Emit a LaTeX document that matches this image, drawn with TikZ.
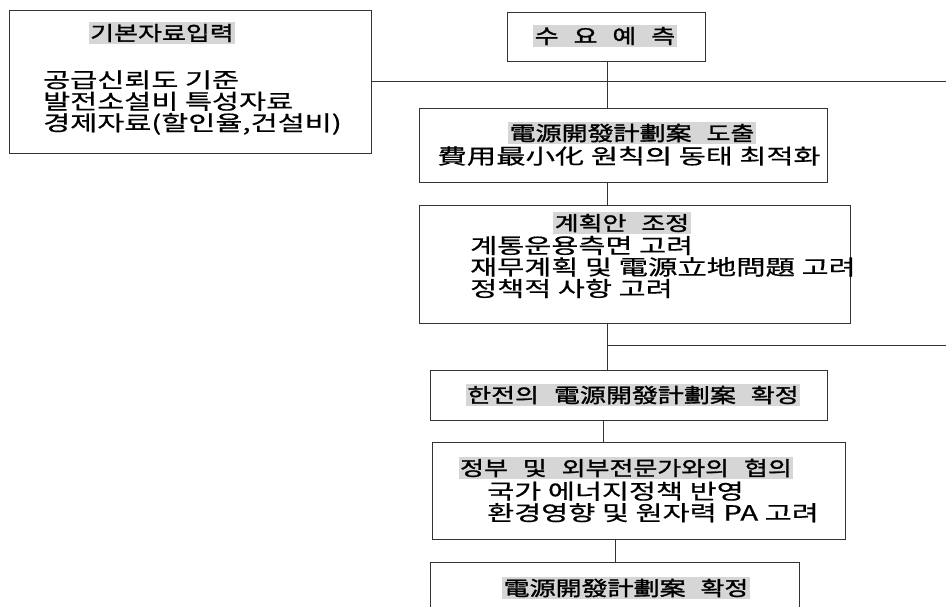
\documentclass[tikz,border=0pt]{standalone}
\usepackage{fontspec}
\newfontfamily\kr[FakeStretch=1.4,FakeBold=0.6]{Noto Sans CJK KR}
\newfontfamily\krh[FakeStretch=1.3,FakeBold=1.4,WordSpace=0.8]{Noto Sans CJK KR}
\newfontfamily\krs[FakeStretch=1.3,FakeBold=1.4,WordSpace=1.6]{Noto Sans CJK KR}
\tikzset{
  box/.style={draw=black!80, line width=0.7pt, rectangle, inner sep=0pt},
  head/.style={fill=black!16, inner sep=1.5pt, font=\krh\fontsize{20}{21}\selectfont},
  heads/.style={fill=black!16, inner sep=1.5pt, font=\krs\fontsize{20}{21}\selectfont},
  body/.style={inner sep=0pt, align=left, font=\kr\fontsize{21}{21.5}\selectfont},
  link/.style={draw=black!80, line width=0.7pt}
}
\begin{document}
\begin{tikzpicture}[x=1pt,y=-1pt]
\clip (0,0) rectangle (946,607);
\fill[white] (0,0) rectangle (946,607);
% boxes
\node[box, minimum width=362pt, minimum height=143pt] (b0) at (190,81.5) {};
\node[box, minimum width=198pt, minimum height=49pt] (b1) at (606,36.5) {};
\node[box, minimum width=408pt, minimum height=74pt] (b2) at (623,145) {};
\node[box, minimum width=431pt, minimum height=118pt] (b3) at (634.5,264) {};
\node[box, minimum width=397pt, minimum height=50pt] (b4) at (628.5,395) {};
\node[box, minimum width=413pt, minimum height=97pt] (b5) at (638.5,490.5) {};
\node[box, minimum width=369pt, minimum height=63pt] (b6) at (614.5,593.5) {};
% texts
\node[head] (t0h) at (162,33) {기본자료입력};
\node[body, anchor=west] (t0) at (43,102.5) {공급신뢰도 기준\\발전소설비 특성자료\\경제자료(할인율,건설비)};
\node[heads] (t1h) at (605,36) {수 요 예 측};
\node[head] (t2h) at (632,133) {電源開發計劃案 도출};
\node[body] (t2) at (629,156) {費用最小化 원칙의 동태 최적화};
\node[heads] (t3h) at (622,223) {계획안 조정};
\node[body, anchor=west] (t3) at (470,267) {계통운용측면 고려\\재무계획 및 電源立地問題 고려\\정책적 사항 고려};
\node[head] (t4h) at (633,395) {한전의 電源開發計劃案 확정};
\node[head] (t5h) at (626,468) {정부 및 외부전문가와의 협의};
\node[body, anchor=west] (t5) at (487,502) {국가 에너지정책 반영\\환경영향 및 원자력 PA 고려};
\node[head] (t6h) at (626,588) {電源開發計劃案 확정};
% connector coordinates
\coordinate (e1) at (946,81.5);
\coordinate (xa) at (607,0);
\coordinate (j) at (607,345);
\coordinate (e2) at (946,345);
\coordinate (xb) at (603,0);
\coordinate (xc) at (615,0);
% connectors
\draw[link] (b0.east) -- (e1);
\draw[link] (b1.south -| xa) -- (b2.north -| xa);
\draw[link] (b2.south -| xa) -- (b3.north -| xa);
\draw[link] (b3.south -| xa) -- (b4.north -| xa);
\draw[link] (j) -- (e2);
\draw[link] (b4.south -| xb) -- (b5.north -| xb);
\draw[link] (b5.south -| xc) -- (b6.north -| xc);
\end{tikzpicture}
\end{document}
